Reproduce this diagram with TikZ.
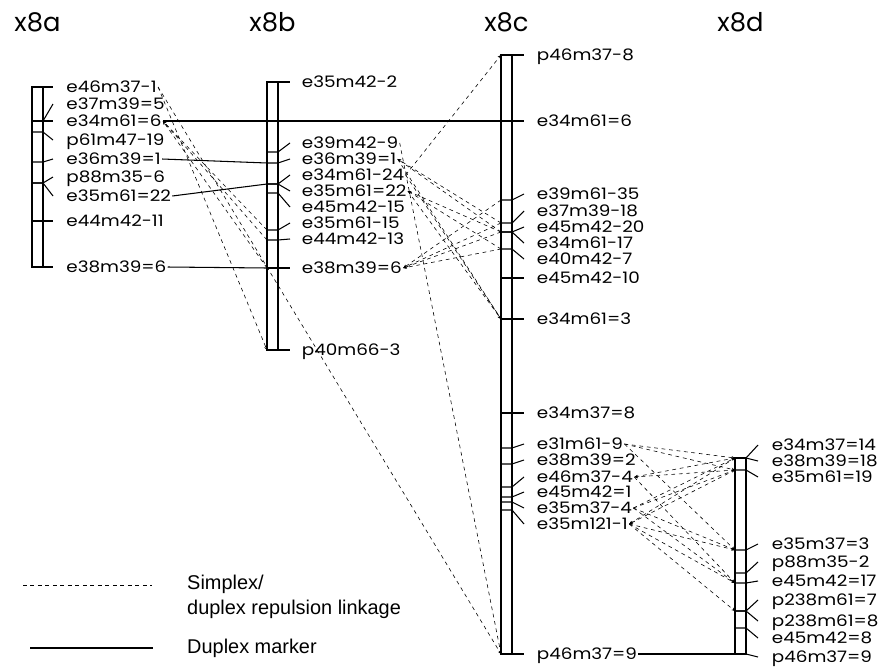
\documentclass[tikz,border=0pt]{standalone}
\usepackage{fontspec}
\setmainfont{Poppins}
\newfontfamily\markerfont[FakeStretch=1.16]{Poppins}
\newfontfamily\legendfont{Liberation Sans}
\usetikzlibrary{arrows.meta}

\begin{document}
\begin{tikzpicture}[x=0.03cm, y=-0.03cm,
    bar/.style={draw, line width=0.9pt},
    tick/.style={line width=0.9pt},
    lbl/.style={font=\markerfont\fontsize{13.5}{14}\selectfont, anchor=west, inner sep=1pt, text height=9.4pt, text depth=0pt},
    ttl/.style={font=\fontsize{22}{22}\selectfont, inner sep=0pt},
    leg/.style={font=\legendfont\fontsize{17}{21}\selectfont, anchor=west, align=left, inner sep=0pt},
    duplex/.style={line width=0.9pt},
    repul/.style={line width=0.5pt, dash pattern=on 3.2pt off 3.2pt, -{Stealth[length=3pt,width=2.6pt]}}]
  \useasboundingbox (0,0) rectangle (893,667);

  % linkage groups
  \node[ttl] (ta) at (37.5,22) {x8a};
  \node[ttl] (tb) at (272.5,22) {x8b};
  \node[ttl] (tc) at (506.5,22) {x8c};
  \node[ttl] (td) at (740.5,22) {x8d};

  % x8a
  \draw[bar] (32,87) rectangle (43,267);
  \foreach \ty/\ly/\id/\txt in {87/87/e46m37-1/e46m37-1, 121/104/e37m39-5/e37m39=5,
      121/121/e34m61-6/e34m61=6, 132/140/p61m47-19/p61m47-19, 162/159/e36m39-1/e36m39=1,
      183/177/p88m35-6/p88m35-6, 183/196/e35m61-22/e35m61=22, 221/221/e44m42-11/e44m42-11,
      267/267/e38m39-6/e38m39=6}{
    \draw[tick] (32,\ty) -- (43,\ty) -- (53,\ly);
    \coordinate (a-\id-t) at (32,\ty);
    \node[lbl] (a-\id) at (65,\ly) {\txt};
  }

  % x8b
  \draw[bar] (267,82) rectangle (278,350);
  \foreach \ty/\ly/\id/\txt in {82/82/e35m42-2/e35m42-2, 152/143/e39m42-9/e39m42-9,
      163/159/e36m39-1/e36m39=1, 184/175/e34m61-24/e34m61-24, 184/191/e35m61-22/e35m61=22,
      193/207/e45m42-15/e45m42-15, 230/223/e35m61-15/e35m61-15, 240/239/e44m42-13/e44m42-13,
      268/268/e38m39-6/e38m39=6, 350/350/p40m66-3/p40m66-3}{
    \draw[tick] (267,\ty) -- (278,\ty) -- (290,\ly);
    \coordinate (b-\id-t) at (267,\ty);
    \node[lbl] (b-\id) at (300.5,\ly) {\txt};
  }

  % x8c
  \draw[bar] (501,55) rectangle (512,654);
  \foreach \ty/\ly/\id/\txt in {55/55/p46m37-8/p46m37-8, 121/121/e34m61-6/e34m61=6,
      200/194/e39m61-35/e39m61-35, 223/211/e37m39-18/e37m39-18, 232/227/e45m42-20/e45m42-20,
      232/243/e34m61-17/e34m61-17, 249/259/e40m42-7/e40m42-7, 278/278/e45m42-10/e45m42-10,
      319/319/e34m61-3/e34m61=3, 413/413/e34m37-8/e34m37=8, 448/444/e31m61-9/e31m61-9,
      464/460/e38m39-2/e38m39=2, 487/477/e46m37-4/e46m37-4, 497/492/e45m42-1/e45m42=1,
      502/508/e35m37-4/e35m37-4, 510/524/e35m121-1/e35m121-1, 654/654/p46m37-9/p46m37=9}{
    \draw[tick] (501,\ty) -- (512,\ty) -- (524,\ly);
    \coordinate (c-\id-t) at (501,\ty);
    \node[lbl] (c-\id) at (535.5,\ly) {\txt};
  }

  % x8d
  \draw[bar] (735,458) rectangle (746,654);
  \foreach \ty/\ly/\id/\txt in {458/445/e34m37-14/e34m37=14, 458/461/e38m39-18/e38m39=18,
      470/477/e35m61-19/e35m61=19, 550/544/e35m37-3/e35m37=3, 573/562/p88m35-2/p88m35-2,
      583/581/e45m42-17/e45m42=17, 611/600/p238m61-7/p238m61=7, 611/621/p238m61-8/p238m61=8,
      628/638/e45m42-8/e45m42=8, 654/657/p46m37-9/p46m37=9}{
    \draw[tick] (735,\ty) -- (746,\ty) -- (758,\ly);
    \coordinate (d-\id-t) at (735,\ty);
    \node[lbl] (d-\id) at (770.5,\ly) {\txt};
  }

  % duplex markers
  \draw[duplex] (a-e34m61-6.east) -- (c-e34m61-6-t);
  \draw[duplex] (a-e36m39-1.east) -- (b-e36m39-1-t);
  \draw[duplex] (a-e35m61-22.east) -- (b-e35m61-22-t);
  \draw[duplex] (a-e38m39-6.east) -- (b-e38m39-6-t);
  \draw[duplex] (c-p46m37-9.east) -- (d-p46m37-9-t);

  % repulsion, x8a
  \draw[repul] (a-e46m37-1.east) -- (b-p40m66-3-t);
  \draw[repul] (a-e46m37-1.east) -- (c-p46m37-9-t);
  \draw[repul] (b-e35m61-15-t) -- (a-e34m61-6.east);
  \draw[repul] (b-e44m42-13-t) -- (a-e34m61-6.east);
  \draw[repul] (b-e38m39-6-t) -- (a-e34m61-6.east);

  % repulsion, x8b - x8c
  \draw[repul] (b-e34m61-24.east) -- (c-p46m37-8-t);
  \draw[repul] (b-e39m42-9.east) -- (c-p46m37-9-t);
  \draw[repul] (b-e36m39-1.east) -- (c-e34m61-3-t);
  \draw[repul] (b-e34m61-24.east) -- (c-e34m61-3-t);
  \draw[repul] (b-e35m61-22.east) -- (c-e34m61-3-t);
  \draw[repul] (c-e37m39-18-t) -- (b-e36m39-1.east);
  \draw[repul] (c-e45m42-20-t) -- (b-e36m39-1.east);
  \draw[repul] (c-e45m42-20-t) -- (b-e35m61-22.east);
  \draw[repul] (c-e40m42-7-t) -- (b-e35m61-22.east);
  \draw[repul] (c-e39m61-35-t) -- (b-e38m39-6.east);
  \draw[repul] (c-e37m39-18-t) -- (b-e38m39-6.east);
  \draw[repul] (c-e45m42-20-t) -- (b-e38m39-6.east);
  \draw[repul] (c-e40m42-7-t) -- (b-e38m39-6.east);

  % repulsion, x8c - x8d
  \draw[repul] (c-e31m61-9.east) -- (d-e34m37-14-t);
  \draw[repul] (c-e31m61-9.east) -- (d-e35m61-19-t);
  \draw[repul] (c-e31m61-9.east) -- (d-e35m37-3-t);
  \draw[repul] (d-e34m37-14-t) -- (c-e46m37-4.east);
  \draw[repul] (d-e35m61-19-t) -- (c-e46m37-4.east);
  \draw[repul] (c-e46m37-4.east) -- (d-e45m42-17-t);
  \draw[repul] (c-e35m37-4.east) -- (d-e34m37-14-t);
  \draw[repul] (c-e35m37-4.east) -- (d-e35m61-19-t);
  \draw[repul] (c-e35m37-4.east) -- (d-e35m37-3-t);
  \draw[repul] (c-e35m37-4.east) -- (d-e45m42-17-t);
  \draw[repul] (d-e34m37-14-t) -- (c-e35m121-1.east);
  \draw[repul] (d-e35m61-19-t) -- (c-e35m121-1.east);
  \draw[repul] (c-e35m121-1.east) -- (d-e35m37-3-t);
  \draw[repul] (c-e35m121-1.east) -- (d-e45m42-17-t);
  \draw[repul] (c-e35m121-1.east) -- (d-p238m61-7-t);

  % legend
  \draw[repul,-] (23,585) -- (152,585);
  \node[leg] (l1) at (187,597) {Simplex/\\duplex repulsion linkage};
  \draw[duplex] (30,648) -- (153,648);
  \node[leg] (l2) at (187,648) {Duplex marker};
\end{tikzpicture}
\end{document}
